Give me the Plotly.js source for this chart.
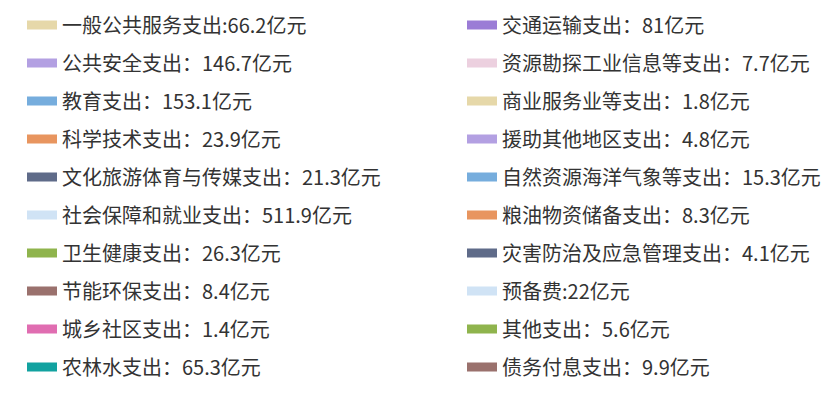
<!DOCTYPE html>
<html>
<head>
<meta charset="utf-8">
<script src="https://cdn.plot.ly/plotly-3.0.1.min.js"></script>
<style>html,body{margin:0;padding:0;background:#fff;}#chart{width:840px;height:399px;}</style>
</head>
<body>
<div id="chart"></div>
<script>
// Left column
const categoriesLeft = ['一般公共服务支出', '公共安全支出', '教育支出', '科学技术支出', '文化旅游体育与传媒支出',
  '社会保障和就业支出', '卫生健康支出', '节能环保支出', '城乡社区支出', '农林水支出'];
const valuesLeft = [66.2, 146.7, 153.1, 23.9, 21.3, 511.9, 26.3, 8.4, 1.4, 65.3];
const sepLeft = [':', '：', '：', '：', '：', '：', '：', '：', '：', '：'];
// Right column
const categoriesRight = ['交通运输支出', '资源勘探工业信息等支出', '商业服务业等支出', '援助其他地区支出', '自然资源海洋气象等支出',
  '粮油物资储备支出', '灾害防治及应急管理支出', '预备费', '其他支出', '债务付息支出'];
const valuesRight = [81, 7.7, 1.8, 4.8, 15.3, 8.3, 4.1, 22, 5.6, 9.9];
const sepRight = ['：', '：', '：', '：', '：', '：', '：', ':', '：', '：'];
const unit = '亿元';

const colorsLeft = ['#e6d8a9', '#b3a0e2', '#76addd', '#e8955f', '#5f6b89', '#d0e3f5', '#8fb44d', '#9a716d', '#e06db1', '#12a2a0'];
const colorsRight = ['#9b7cd6', '#ecd0df', '#e6d8a9', '#b3a0e2', '#76addd', '#e8955f', '#5f6b89', '#d0e3f5', '#8fb44d', '#9a716d'];

const traces = [];
function addColumn(cats, vals, seps, cols, legendId, prefix) {
  cats.forEach((c, i) => {
    traces.push({
      type: 'scatter', mode: 'lines',
      x: [c], y: [vals[i]],
      name: c + seps[i] + vals[i] + unit,
      legend: legendId,
      legendgroup: prefix + i,
      line: {color: cols[i], width: 9},
      hoverinfo: 'skip'
    });
  });
}
addColumn(categoriesLeft, valuesLeft, sepLeft, colorsLeft, 'legend', 'L');
addColumn(categoriesRight, valuesRight, sepRight, colorsRight, 'legend2', 'R');

const legendFont = {family: '"Noto Sans CJK SC", "Microsoft YaHei", sans-serif', size: 20, color: '#333333'};
const topY = 1 - 5.5 / 399;
const layout = {
  width: 840, height: 399,
  margin: {l: 0, r: 0, t: 0, b: 0},
  paper_bgcolor: '#ffffff', plot_bgcolor: '#ffffff',
  xaxis: {visible: false}, yaxis: {visible: false},
  showlegend: true,
  legend: {x: 22/840, y: topY, xanchor: 'left', yanchor: 'top', font: legendFont,
    tracegroupgap: 9, traceorder: 'grouped', bgcolor: 'rgba(0,0,0,0)'},
  legend2: {x: 462/840, y: topY, xanchor: 'left', yanchor: 'top', font: legendFont,
    tracegroupgap: 9, traceorder: 'grouped', bgcolor: 'rgba(0,0,0,0)'}
};
Plotly.newPlot('chart', traces, layout, {displayModeBar: false, staticPlot: true});
</script>
</body>
</html>
